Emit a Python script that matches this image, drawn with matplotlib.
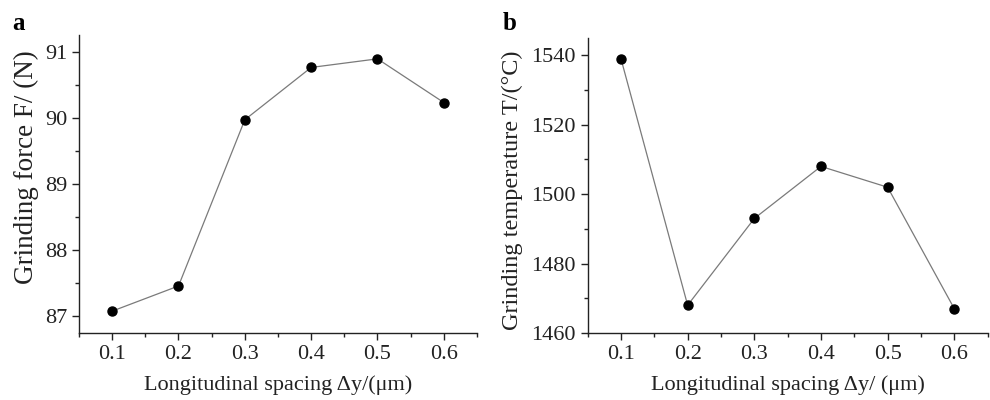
import matplotlib
matplotlib.use("Agg")
import matplotlib.pyplot as plt
from matplotlib.ticker import MultipleLocator

plt.rcParams['font.family'] = ['Liberation Serif', 'DejaVu Serif']
plt.rcParams['mathtext.fontset'] = 'stix'

spacing = [0.1, 0.2, 0.3, 0.4, 0.5, 0.6]
force = [87.08, 87.46, 89.97, 90.76, 90.89, 90.23]
temperature = [1539, 1468, 1493, 1508, 1502, 1467]

fig = plt.figure(figsize=(9.9, 4.0), dpi=100)
axa = fig.add_axes([0.0798, 0.1675, 0.402, 0.745])
axb = fig.add_axes([0.5936, 0.1675, 0.404, 0.7375])

def style(ax):
    for s in ['top', 'right']:
        ax.spines[s].set_visible(False)
    for s in ['left', 'bottom']:
        ax.spines[s].set_linewidth(1.0)
        ax.spines[s].set_color('#222222')
    ax.tick_params(which='major', direction='out', length=5, width=1.0, labelsize=16, colors='#222222')
    ax.tick_params(which='minor', direction='out', length=3, width=1.0, colors='#222222')
    ax.set_xlim(0.05, 0.65)
    ax.xaxis.set_major_locator(MultipleLocator(0.1))
    ax.xaxis.set_minor_locator(MultipleLocator(0.05))
    ax.set_xticks(spacing)
    ax.set_xticklabels([f"{v:.1f}" for v in spacing])

style(axa)
axa.plot(spacing, force, color='#7a7a7a', lw=0.9, marker='o', ms=6.5,
         mfc='black', mec='black', zorder=3)
axa.set_ylim(86.75, 91.25)
axa.yaxis.set_major_locator(MultipleLocator(1))
axa.yaxis.set_minor_locator(MultipleLocator(0.5))
axa.set_ylabel('Grinding force F/ (N)', fontsize=19.5, color='#222222', labelpad=4)
axa.yaxis.label.set_y(0.555)
axa.set_xlabel('Longitudinal spacing Δy/(μm)', fontsize=16, color='#222222', labelpad=8)

style(axb)
axb.plot(spacing, temperature, color='#7a7a7a', lw=0.9, marker='o', ms=6.5,
         mfc='black', mec='black', zorder=3)
axb.set_ylim(1460, 1545)
axb.yaxis.set_major_locator(MultipleLocator(20))
axb.yaxis.set_minor_locator(MultipleLocator(10))
axb.set_ylabel('Grinding temperature T/(°C)', fontsize=17.5, color='#222222', labelpad=6)
axb.yaxis.label.set_y(0.485)
axb.set_xlabel('Longitudinal spacing Δy/ (μm)', fontsize=16, color='#222222', labelpad=8)

fig.text(0.012, 0.925, 'a', fontsize=18, fontweight='bold', color='black')
fig.text(0.508, 0.925, 'b', fontsize=18, fontweight='bold', color='black')

fig.savefig('out.png', dpi=100, facecolor='white')
